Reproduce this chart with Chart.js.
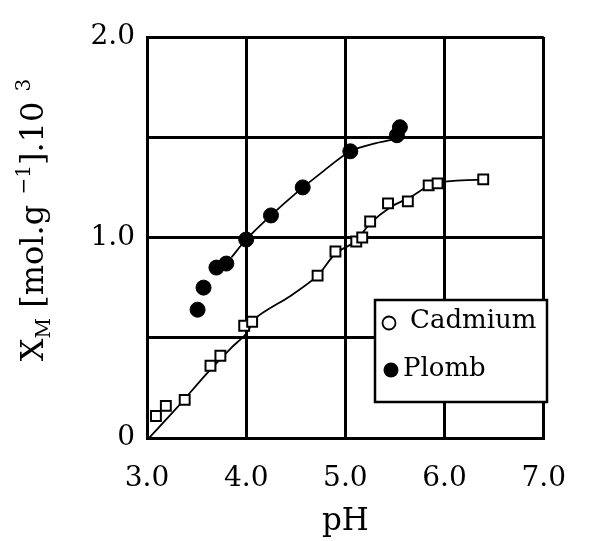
<!DOCTYPE html>
<html>
<head>
<meta charset="utf-8">
<script src="https://cdn.jsdelivr.net/npm/chart.js@4/dist/chart.umd.min.js"></script>
<style>
  html, body { margin: 0; padding: 0; background: #fff; }
  #wrap { width: 590px; height: 541px; }
</style>
</head>
<body>
<div id="wrap"><canvas id="c" width="590" height="541"></canvas></div>
<script>
// ---- data ----
const cadmiumPH = [3.09, 3.19, 3.38, 3.64, 3.74, 3.98, 4.06, 4.72, 4.90, 5.11, 5.17, 5.25, 5.43, 5.63, 5.84, 5.93, 6.39];
const cadmiumX  = [0.11, 0.16, 0.19, 0.36, 0.41, 0.56, 0.58, 0.81, 0.93, 0.98, 1.00, 1.08, 1.17, 1.18, 1.26, 1.27, 1.29];
const plombPH = [3.51, 3.57, 3.70, 3.80, 4.00, 4.25, 4.57, 5.05, 5.52, 5.55];
const plombX  = [0.64, 0.75, 0.85, 0.87, 0.99, 1.11, 1.25, 1.43, 1.51, 1.55];
const cadmiumFitPH = [3.02, 3.30, 3.60, 3.85, 4.00, 4.10, 4.45, 4.72, 4.90, 5.10, 5.25, 5.45, 5.65, 5.90, 6.38];
const cadmiumFitX  = [0.00, 0.15, 0.32, 0.45, 0.52, 0.60, 0.71, 0.81, 0.92, 0.98, 1.07, 1.15, 1.20, 1.27, 1.29];
const plombFitPH = [3.85, 4.00, 4.25, 4.50, 4.75, 5.05, 5.30, 5.60];
const plombFitX  = [0.90, 0.99, 1.11, 1.22, 1.32, 1.43, 1.47, 1.50];
const xTickLabels = { 3: '3.0', 4: '4.0', 5: '5.0', 6: '6.0', 7: '7.0' };
const yTickLabels = { 0: '0', 1: '1.0', 2: '2.0' };
const seriesNames = ['Cadmium', 'Plomb'];

const toPts = (xs, ys) => xs.map((x, i) => ({ x: x, y: ys[i] }));
const FONT = 'DejaVu Serif';

const yTitlePlugin = {
  id: 'yTitle',
  afterDraw(chart) {
    const ctx = chart.ctx;
    const parts = [
      { t: 'X', s: 32, dy: 0 },
      { t: 'M', s: 20, dy: 7 },
      { t: ' [mol.g ', s: 32, dy: 0 },
      { t: '\u22121', s: 20, dy: -13 },
      { t: '].10 ', s: 32, dy: 0 },
      { t: '3', s: 20, dy: -13 }
    ];
    ctx.save();
    let total = 0;
    parts.forEach(p => { ctx.font = p.s + 'px "' + FONT + '"'; p.w = ctx.measureText(p.t).width; total += p.w; });
    ctx.translate(34, 220);
    ctx.rotate(-Math.PI / 2);
    ctx.fillStyle = '#000';
    ctx.textBaseline = 'alphabetic';
    let x = -total / 2;
    parts.forEach(p => {
      ctx.font = p.s + 'px "' + FONT + '"';
      ctx.fillText(p.t, x, 9 + p.dy);
      x += p.w;
    });
    ctx.restore();
  }
};

const legendPlugin = {
  id: 'boxLegend',
  afterDatasetsDraw(chart) {
    const ctx = chart.ctx;
    ctx.save();
    ctx.fillStyle = '#fff';
    ctx.fillRect(375, 300, 172, 102);
    ctx.strokeStyle = '#000';
    ctx.lineWidth = 2.5;
    ctx.strokeRect(375, 300, 172, 102);
    // Cadmium marker
    ctx.beginPath();
    ctx.arc(389, 323, 6.5, 0, Math.PI * 2);
    ctx.fillStyle = '#fff';
    ctx.fill();
    ctx.lineWidth = 1.8;
    ctx.stroke();
    // Plomb marker
    ctx.beginPath();
    ctx.arc(391, 370, 7.5, 0, Math.PI * 2);
    ctx.fillStyle = '#000';
    ctx.fill();
    ctx.font = '26px "' + FONT + '"';
    ctx.textBaseline = 'middle';
    ctx.fillStyle = '#000';
    ctx.fillText(seriesNames[0], 410, 321);
    ctx.fillText(seriesNames[1], 403, 369);
    ctx.restore();
  }
};

const bgPlugin = {
  id: 'bg',
  beforeDraw(chart) {
    const ctx = chart.ctx;
    ctx.save();
    ctx.fillStyle = '#fff';
    ctx.fillRect(0, 0, chart.width, chart.height);
    ctx.restore();
  }
};

new Chart(document.getElementById('c'), {
  type: 'scatter',
  data: {
    datasets: [
      { label: 'Cadmium fit', data: toPts(cadmiumFitPH, cadmiumFitX), showLine: true, tension: 0.3,
        borderColor: '#000', borderWidth: 1.8, pointRadius: 0, order: 3 },
      { label: 'Plomb fit', data: toPts(plombFitPH, plombFitX), showLine: true, tension: 0.3,
        borderColor: '#000', borderWidth: 1.8, pointRadius: 0, order: 3 },
      { label: seriesNames[0], data: toPts(cadmiumPH, cadmiumX), pointStyle: 'rect', pointRadius: 7,
        backgroundColor: '#fff', borderColor: '#000', borderWidth: 2, order: 2 },
      { label: seriesNames[1], data: toPts(plombPH, plombX), pointStyle: 'circle', pointRadius: 7.5,
        backgroundColor: '#000', borderColor: '#000', borderWidth: 1, order: 1 }
    ]
  },
  options: {
    responsive: false,
    devicePixelRatio: 1,
    animation: false,
    layout: { padding: { top: 37, right: 23, left: 0, bottom: 0 } },
    plugins: { legend: { display: false }, tooltip: { enabled: false } },
    scales: {
      x: {
        type: 'linear', min: 3, max: 7,
        afterFit: s => { s.height = 103; },
        border: { color: '#000', width: 3 },
        grid: { color: '#000', lineWidth: 3, drawTicks: false },
        ticks: {
          stepSize: 1, padding: 24, color: '#000',
          font: { family: FONT, size: 28 },
          callback: v => xTickLabels[v] !== undefined ? xTickLabels[v] : ''
        },
        title: { display: true, text: 'pH', color: '#000', font: { family: FONT, size: 31 }, padding: { top: 0, bottom: 0 } }
      },
      y: {
        type: 'linear', min: 0, max: 2,
        afterFit: s => { s.width = 147; },
        border: { color: '#000', width: 3 },
        grid: { color: '#000', lineWidth: 3, drawTicks: false },
        ticks: {
          stepSize: 0.5, padding: 12, color: '#000',
          font: { family: FONT, size: 28 },
          callback: v => yTickLabels[v] !== undefined ? yTickLabels[v] : ''
        }
      }
    }
  },
  plugins: [bgPlugin, legendPlugin, yTitlePlugin]
});
</script>
</body>
</html>
